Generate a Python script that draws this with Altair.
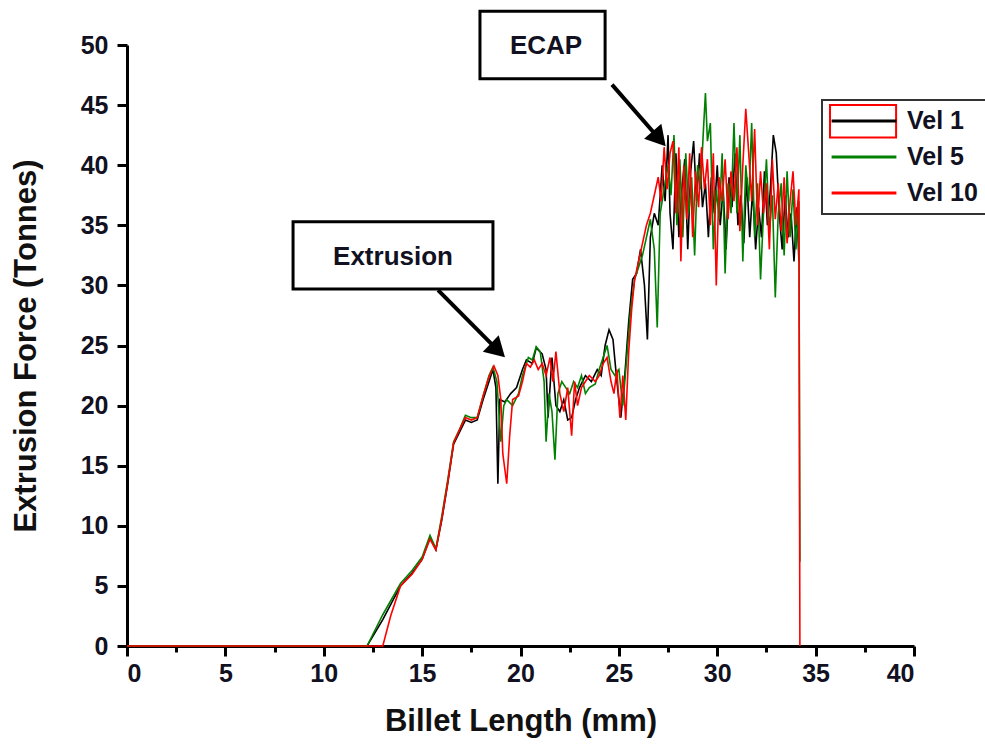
import altair as alt
import pandas as pd

# ---------------- data ----------------
vel1_x = [0, 12.2, 13.0, 13.9, 14.5, 15.0, 15.4, 15.7, 16.0, 16.3, 16.6, 16.9, 17.2, 17.5, 17.8, 18.1, 18.4, 18.6,
          18.75, 18.85, 18.95, 19.2, 19.5, 19.8, 20.1, 20.3, 20.6, 20.8, 21.1, 21.3, 21.4, 21.6, 21.8, 22.0, 22.2,
          22.4, 22.6, 22.8, 23.0, 23.3, 23.6, 23.9, 24.1, 24.3, 24.5, 24.7, 24.9, 25.1, 25.3, 25.5, 25.7, 25.9,
          26.1, 26.3, 26.45, 26.6, 26.8, 27.0, 27.2, 27.35, 27.5, 27.6, 27.75, 27.9, 28.05, 28.2, 28.35, 28.5,
          28.65, 28.8, 28.95, 29.1, 29.25, 29.4, 29.55, 29.7, 29.85, 30.0, 30.15, 30.3, 30.45, 30.6, 30.75, 30.9,
          31.05, 31.2, 31.35, 31.5, 31.65, 31.8, 31.95, 32.1, 32.25, 32.4, 32.55, 32.7, 32.85, 33.0, 33.15, 33.3,
          33.45, 33.6, 33.75, 33.9, 34.05, 34.15]
vel1_y = [0, 0, 2.2, 5.0, 6.1, 7.2, 9.0, 8.0, 10.5, 13.5, 16.8, 17.8, 18.8, 18.6, 18.8, 20.5, 22.0, 23.0,
          21.5, 13.5, 20.5, 20.3, 21.0, 21.5, 23.0, 23.8, 23.5, 24.8, 24.3, 23.0, 19.0, 24.0, 20.0, 19.5, 20.5,
          18.8, 19.0, 20.5, 21.5, 22.5, 22.0, 23.0, 22.5, 25.0, 26.3, 25.5, 22.0, 19.0, 22.5, 27.0, 30.5, 31.0,
          33.0, 30.0, 25.5, 34.0, 36.0, 35.0, 40.0, 37.0, 42.5, 36.0, 33.0, 41.0, 34.0, 38.0, 40.5, 33.0,
          39.5, 42.0, 37.0, 41.0, 36.5, 38.5, 34.0, 39.0, 36.0, 40.0, 35.0, 38.0, 33.0, 39.0, 36.5, 41.0,
          35.0, 37.5, 33.5, 39.0, 34.0, 38.0, 33.0, 36.5, 34.0, 39.5, 35.0, 38.0, 42.5, 41.0, 36.0, 33.0,
          37.5, 34.0, 36.0, 32.0, 36.5, 32.0]

vel5_x = [0, 12.2, 13.0, 13.9, 14.5, 15.0, 15.4, 15.7, 16.0, 16.3, 16.6, 16.9, 17.2, 17.5, 17.8, 18.1, 18.4, 18.6,
          18.8, 19.0, 19.15, 19.3, 19.6, 19.9, 20.1, 20.4, 20.6, 20.8, 21.0, 21.2, 21.3, 21.45, 21.6, 21.75, 21.9,
          22.1, 22.3, 22.5, 22.7, 22.9, 23.1, 23.3, 23.5, 23.8, 24.0, 24.2, 24.4, 24.6, 24.8, 25.0, 25.2, 25.4,
          25.6, 25.8, 26.0, 26.2, 26.4, 26.6, 26.8, 26.95, 27.1, 27.3, 27.5, 27.65, 27.8, 27.95, 28.1, 28.25,
          28.4, 28.55, 28.7, 28.85, 29.0, 29.15, 29.3, 29.4, 29.5, 29.65, 29.8, 29.95, 30.1, 30.25, 30.4, 30.55,
          30.7, 30.85, 31.0, 31.15, 31.3, 31.45, 31.6, 31.75, 31.9, 32.05, 32.2, 32.35, 32.5, 32.65, 32.8, 32.95,
          33.1, 33.25, 33.4, 33.55, 33.7, 33.85, 34.0, 34.15, 34.2]
vel5_y = [0, 0, 2.6, 5.2, 6.3, 7.4, 9.2, 8.1, 10.8, 13.8, 17.0, 18.0, 19.2, 19.0, 19.0, 20.8, 22.5, 23.2,
          22.0, 17.0, 20.0, 20.5, 20.0, 21.0, 22.5, 24.0, 23.8, 24.9, 24.5, 22.0, 17.0, 21.0, 19.5, 15.5, 21.0,
          22.0, 21.5, 21.0, 22.0, 21.5, 22.5, 21.0, 21.5, 21.8, 23.0, 24.0, 25.0, 23.0, 22.5, 23.0, 20.0, 24.0,
          28.0, 30.5, 31.5, 32.5, 34.0, 35.5, 33.0, 26.5, 36.0, 38.0, 40.0, 37.5, 42.5, 35.0, 40.5, 34.0,
          41.0, 36.0, 39.0, 32.5, 40.0, 38.0, 43.0, 46.0, 42.0, 43.5, 33.0, 38.0, 35.5, 41.0, 31.0, 38.5,
          36.0, 43.5, 36.0, 42.5, 32.0, 40.0, 37.0, 43.5, 34.0, 38.5, 30.5, 36.0, 40.5, 34.5, 37.5, 29.0,
          36.0, 38.5, 32.5, 39.5, 34.0, 38.0, 33.0, 37.0, 7.0]

vel10_x = [0, 13.0, 13.4, 13.9, 14.5, 15.0, 15.4, 15.7, 16.0, 16.3, 16.6, 16.9, 17.2, 17.5, 17.8, 18.1, 18.4,
           18.65, 18.85, 19.0, 19.1, 19.3, 19.45, 19.6, 19.9, 20.1, 20.3, 20.5, 20.7, 20.9, 21.1, 21.3, 21.5,
           21.65, 21.8, 22.0, 22.2, 22.4, 22.6, 22.75, 22.9, 23.1, 23.3, 23.5, 23.8, 24.0, 24.2, 24.4, 24.6,
           24.75, 24.9, 25.05, 25.2, 25.35, 25.5, 25.65, 25.8, 26.0, 26.2, 26.4, 26.6, 26.8, 27.0, 27.15, 27.3,
           27.45, 27.6, 27.75, 27.9, 28.05, 28.15, 28.3, 28.45, 28.6, 28.75, 28.9, 29.05, 29.2, 29.35, 29.5,
           29.65, 29.8, 29.95, 30.1, 30.25, 30.4, 30.55, 30.7, 30.85, 31.0, 31.15, 31.3, 31.45, 31.6, 31.75,
           31.9, 32.05, 32.2, 32.35, 32.5, 32.65, 32.8, 32.95, 33.1, 33.25, 33.4, 33.55, 33.7, 33.85, 34.0,
           34.15, 34.2]
vel10_y = [0, 0, 2.5, 5.0, 6.0, 7.2, 8.9, 8.0, 10.6, 13.6, 16.9, 18.0, 19.0, 18.8, 19.0, 20.8, 22.4,
           23.3, 22.5, 20.5, 16.0, 13.5, 17.5, 20.5, 20.8, 22.0, 23.5, 23.2, 23.8, 23.0, 23.5, 22.5, 24.0,
           22.0, 24.5, 21.0, 19.5, 21.5, 17.5, 22.0, 20.0, 21.5, 22.0, 22.5, 22.0, 22.5, 23.5, 24.0, 22.0,
           21.0, 23.0, 19.0, 22.5, 18.8, 24.5, 28.0, 30.5, 32.0, 33.5, 35.0, 36.0, 37.5, 39.0, 37.0, 41.5,
           38.0, 41.0, 42.0, 36.0, 41.5, 32.0, 40.0, 35.5, 41.0, 34.0, 39.5, 36.5, 41.5, 38.0, 40.5,
           35.0, 41.0, 30.0, 39.0, 37.0, 40.5, 35.5, 39.5, 37.0, 41.5, 34.5, 40.0, 44.7, 41.0, 37.0,
           43.0, 35.0, 39.5, 36.0, 38.5, 33.0, 40.5, 35.5, 38.5, 34.5, 39.0, 33.5, 37.0, 39.5, 35.0,
           38.0, 0.0]

series_names = ["Vel 1", "Vel 5", "Vel 10"]
series_colors = ["#000000", "#008000", "#ff0000"]

# annotations (data coordinates)
box_labels = ["ECAP", "Extrusion"]
box_x1 = [17.94, 8.44]
box_x2 = [24.30, 18.60]
box_y1 = [52.8, 35.3]
box_y2 = [47.2, 29.7]
box_tx = [21.3, 13.52]
box_ty = [49.9, 32.35]
arrow_x1 = [24.65, 15.81]
arrow_y1 = [46.7, 29.6]
arrow_x2 = [27.05, 18.85]
arrow_y2 = [42.2, 24.6]
arrow_angle = [139, 134]

# red frame drawn around the "Vel 1" legend key
key_x1 = [35.73]
key_x2 = [39.09]
key_y1 = [45.0]
key_y2 = [42.3]

# ---------------- tables ----------------
rows = []
for name, xs, ys in [("Vel 1", vel1_x, vel1_y), ("Vel 5", vel5_x, vel5_y), ("Vel 10", vel10_x, vel10_y)]:
    for i, (a, b) in enumerate(zip(xs, ys)):
        rows.append({"series": name, "x": a, "y": b, "order": i})
df = pd.DataFrame(rows)

boxes = pd.DataFrame({"label": box_labels, "x1": box_x1, "x2": box_x2, "y1": box_y1, "y2": box_y2,
                      "tx": box_tx, "ty": box_ty})
arrows = pd.DataFrame({"x1": arrow_x1, "y1": arrow_y1, "x2": arrow_x2, "y2": arrow_y2, "angle": arrow_angle})
keybox = pd.DataFrame({"x1": key_x1, "x2": key_x2, "y1": key_y1, "y2": key_y2})

FONT = "Liberation Sans"

ticks = [i * 2.5 for i in range(17)]
yticks = [i * 2.5 for i in range(21)]
tick_size = {"condition": {"test": "datum.value % 5 === 0", "value": 10}, "value": 6}

xscale = alt.Scale(domain=[0, 40], nice=False, zero=False)
yscale = alt.Scale(domain=[0, 50], nice=False)

xaxis = alt.Axis(values=ticks, labelExpr="datum.value % 5 === 0 ? datum.label : ''", tickSize=tick_size,
                 title="Billet Length (mm)", titlePadding=20, labelPadding=5)
yaxis = alt.Axis(values=yticks, labelExpr="datum.value % 5 === 0 ? datum.label : ''", tickSize=tick_size,
                 title="Extrusion Force (Tonnes)", titlePadding=38, labelPadding=9)

color = alt.Color("series:N", scale=alt.Scale(domain=series_names, range=series_colors),
                  legend=alt.Legend(title=None, orient="none", legendX=695, legendY=55,
                                    symbolType="stroke", symbolSize=4200, symbolStrokeWidth=3,
                                    clipHeight=26, rowPadding=10,
                                    labelFontSize=25, labelFont=FONT, labelFontWeight="bold",
                                    labelColor="#111122", labelOffset=9,
                                    padding=8, strokeColor="#333333"))

layers = []
for name in series_names:
    layers.append(
        alt.Chart(df).transform_filter(alt.datum.series == name).mark_line(strokeWidth=1.6).encode(
            x=alt.X("x:Q", scale=xscale, axis=xaxis),
            y=alt.Y("y:Q", scale=yscale, axis=yaxis),
            color=color,
            order="order:Q",
        )
    )

key_rect = alt.Chart(keybox).mark_rect(fillOpacity=0, stroke="#ff0000", strokeWidth=2).encode(
    x="x1:Q", x2="x2:Q", y="y1:Q", y2="y2:Q")

box_rect = alt.Chart(boxes).mark_rect(fill="white", stroke="black", strokeWidth=3).encode(
    x="x1:Q", x2="x2:Q", y="y1:Q", y2="y2:Q")
box_text = alt.Chart(boxes).mark_text(font=FONT, fontWeight="bold", fontSize=26, color="#111122",
                                      baseline="middle", align="center").encode(
    x="tx:Q", y="ty:Q", text="label:N")
shaft = alt.Chart(arrows).mark_rule(strokeWidth=4, color="black").encode(
    x="x1:Q", y="y1:Q", x2="x2:Q", y2="y2:Q")
head = alt.Chart(arrows).mark_point(shape="triangle-up", filled=True, opacity=1, color="black", size=520).encode(
    x="x2:Q", y="y2:Q", angle=alt.Angle("angle:Q", scale=None))

chart = alt.layer(*layers, key_rect, box_rect, box_text, shaft, head).properties(
    width=787, height=601,
    autosize=alt.AutoSizeParams(type="none"),
    padding={"left": 127, "top": 45, "right": 71, "bottom": 106},
    background="white",
).configure_view(strokeWidth=0).configure_axis(
    grid=False, domainColor="black", domainWidth=3, tickColor="black", tickWidth=3,
    labelFont=FONT, labelFontWeight="bold", labelFontSize=25, labelColor="#111122",
    titleFont=FONT, titleFontWeight="bold", titleFontSize=31, titleColor="#111111",
).configure_legend(strokeWidth=2)

chart.save("out.html", embed_options={"renderer": "svg", "actions": False})
